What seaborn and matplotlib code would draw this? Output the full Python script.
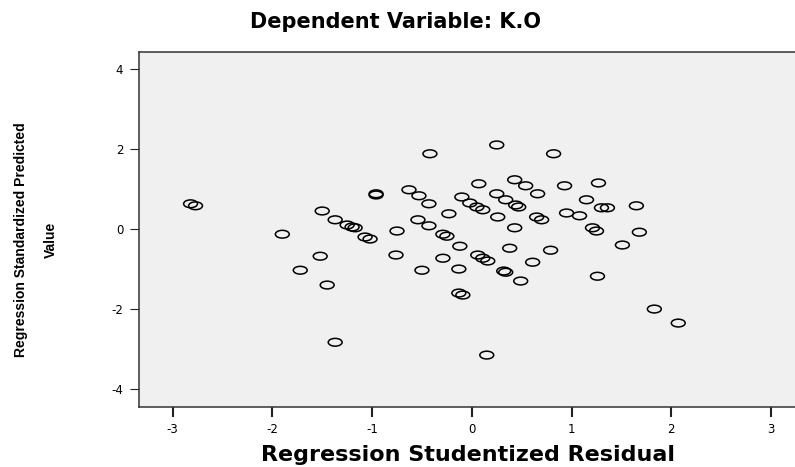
"""
Residual scatter: standardized predicted value vs studentized residual (K.O).
"""
import matplotlib
matplotlib.use("Agg")
import matplotlib.pyplot as plt
from matplotlib import font_manager
from matplotlib.path import Path
from matplotlib.transforms import Affine2D
import seaborn as sns

# ── Data ─────────────────────────────────────────────────────────────────────
studentized_resid = [
    -2.82, -2.77, -1.90, -1.72, -1.52, -1.45, -1.37, -1.50, -1.37, -1.25,
    -1.20, -1.17, -1.07, -1.02, -0.96, -0.96, -0.75, -0.76, -0.63, -0.53,
    -0.43, -0.54, -0.43, -0.50, -0.42, -0.29, -0.25, -0.29, -0.23, -0.12,
    -0.13, -0.13, -0.09, -0.10, -0.02, 0.05, 0.11, 0.07, 0.06, 0.11,
    0.16, 0.15, 0.25, 0.25, 0.26, 0.32, 0.34, 0.34, 0.43, 0.43,
    0.44, 0.47, 0.38, 0.49, 0.54, 0.61, 0.65, 0.70, 0.66, 0.79,
    0.82, 0.93, 0.95, 1.08, 1.15, 1.21, 1.25, 1.26, 1.27, 1.30,
    1.36, 1.51, 1.65, 1.68, 1.83, 2.07,
]
std_predicted = [
    0.63, 0.58, -0.13, -1.03, -0.68, -1.40, -2.83, 0.45, 0.23, 0.10,
    0.05, 0.03, -0.20, -0.25, 0.88, 0.85, -0.05, -0.65, 0.98, 0.83,
    0.63, 0.23, 0.08, -1.03, 1.88, -0.13, -0.18, -0.73, 0.38, -0.43,
    -1.00, -1.60, -1.65, 0.80, 0.65, 0.55, 0.48, 1.13, -0.65, -0.73,
    -0.80, -3.15, 2.10, 0.88, 0.30, -1.05, -1.08, 0.73, 1.23, 0.03,
    0.60, 0.55, -0.48, -1.30, 1.08, -0.83, 0.30, 0.23, 0.88, -0.53,
    1.88, 1.08, 0.40, 0.33, 0.73, 0.03, -0.05, -1.18, 1.15, 0.53,
    0.53, -0.40, 0.58, -0.08, -2.00, -2.35,
]
x_ticks = [-3, -2, -1, 0, 1, 2, 3]
y_ticks = [-4, -2, 0, 2, 4]

# ── Plot ──────────────────────────────────────────────────────────────────────
sns.set_style("white")
plt.rcParams["font.family"] = ["DejaVu Sans"]
plt.rcParams.update({"axes.unicode_minus": False, "text.color": "black",
                     "axes.labelcolor": "black", "xtick.color": "black",
                     "ytick.color": "black"})

# narrow bold face for the y label if it is there
installed = {f.name for f in font_manager.fontManager.ttflist}
if "Liberation Sans Narrow" in installed:
    ylab_family, ylab_size = "Liberation Sans Narrow", 12
else:
    ylab_family, ylab_size = "Liberation Sans", 10

fig = plt.figure(figsize=(7.95, 4.67), dpi=100)
ax = fig.add_axes([0.1752, 0.1291, 0.8260, 0.7602])
ax.set_facecolor("#f0f0f0")

# open ellipse marker (wider than tall)
ellipse = Path.unit_circle().transformed(Affine2D().scale(1.0, 0.56))

sns.scatterplot(x=studentized_resid, y=std_predicted, marker=ellipse,
                s=100, linewidth=1.1, color="black", ax=ax, legend=False)
pts = ax.collections[0]
pts.set_facecolor("none")
pts.set_edgecolor("black")

ax.set_xlim(-3.334, 3.25)
ax.set_ylim(-4.44, 4.43)
ax.set_xticks(x_ticks)
ax.set_yticks(y_ticks)

for side in ("left", "bottom", "top"):
    ax.spines[side].set_visible(True)
    ax.spines[side].set_color("#333333")
    ax.spines[side].set_linewidth(1.1)
ax.spines["right"].set_visible(False)

ax.tick_params(axis="x", direction="out", length=7, width=1.5, color="#222222",
               labelsize=8.5, pad=5, bottom=True)
ax.tick_params(axis="y", direction="out", length=6.5, width=0.8, color="#222222",
               labelsize=8.5, pad=5, left=True)

ax.set_title("Dependent Variable: K.O", fontsize=15, fontweight="bold",
             x=0.39, pad=17)
ax.set_xlabel("Regression Studentized Residual", fontsize=16, fontweight="bold",
              labelpad=6)
ax.set_ylabel("Regression Standardized Predicted\nValue", fontsize=ylab_size,
              fontweight="bold", linespacing=2.4, family=[ylab_family, "DejaVu Sans"])
ax.yaxis.label.set_verticalalignment("center")
ax.yaxis.set_label_coords(-0.1575, 0.47)

fig.savefig("out.png", dpi=100)
plt.close(fig)
